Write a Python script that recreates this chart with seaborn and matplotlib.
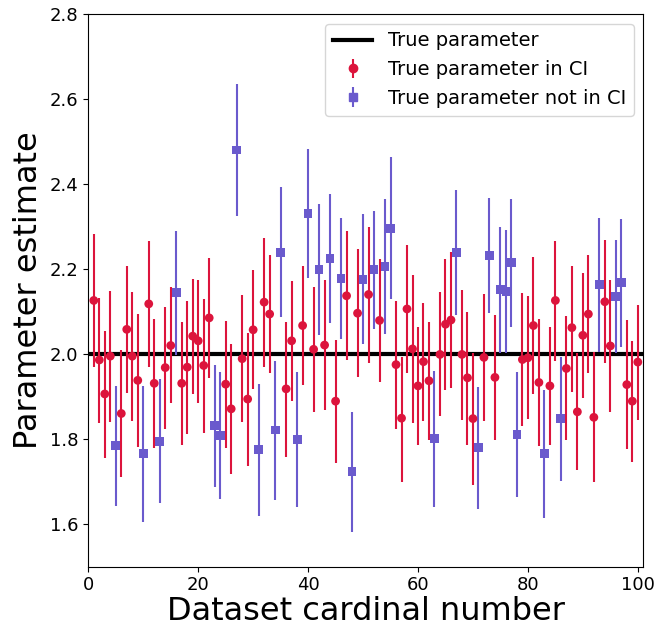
import numpy as np
import pandas as pd
import matplotlib
matplotlib.use("Agg")
import matplotlib.pyplot as plt
import seaborn as sns

true_param = 2.0

dataset = list(range(1, 101))

estimate = [
    2.126, 1.986, 1.906, 1.995, 1.784, 1.860, 2.058, 1.995, 1.938, 1.765,
    2.118, 1.931, 1.795, 1.968, 2.020, 2.145, 1.931, 1.969, 2.042, 2.031,
    1.973, 2.085, 1.831, 1.809, 1.929, 1.871, 2.480, 1.989, 1.894, 2.057,
    1.776, 2.122, 2.094, 1.821, 2.239, 1.918, 2.031, 1.799, 2.067, 2.331,
    2.011, 2.199, 2.021, 2.225, 1.889, 2.178, 2.137, 1.723, 2.096, 2.176,
    2.140, 2.198, 2.079, 2.206, 2.296, 1.975, 1.849, 2.106, 2.012, 1.925,
    1.982, 1.937, 1.802, 1.999, 2.070, 2.080, 2.239, 1.999, 1.944, 1.848,
    1.780, 1.992, 2.231, 1.945, 2.151, 2.147, 2.215, 1.811, 1.987, 1.991,
    2.067, 1.933, 1.765, 1.925, 2.126, 1.848, 1.966, 2.062, 1.864, 2.044,
    2.094, 1.851, 2.164, 2.123, 2.019, 2.135, 2.168, 1.928, 1.889, 1.981,
]

ci_low = [
    1.970, 1.838, 1.755, 1.841, 1.642, 1.711, 1.909, 1.842, 1.782, 1.605,
    1.970, 1.780, 1.649, 1.824, 1.884, 1.998, 1.786, 1.812, 1.905, 1.885,
    1.815, 1.943, 1.686, 1.660, 1.780, 1.717, 2.325, 1.839, 1.737, 1.918,
    1.620, 1.969, 1.955, 1.656, 2.086, 1.758, 1.889, 1.641, 1.927, 2.180,
    1.864, 2.045, 1.868, 2.074, 1.744, 2.036, 1.986, 1.582, 1.945, 2.024,
    1.980, 2.058, 1.935, 2.047, 2.129, 1.824, 1.699, 1.956, 1.837, 1.786,
    1.842, 1.798, 1.641, 1.853, 1.915, 1.921, 2.092, 1.845, 1.787, 1.691,
    1.635, 1.842, 2.096, 1.798, 2.002, 2.002, 2.064, 1.664, 1.831, 1.846,
    1.907, 1.784, 1.615, 1.787, 1.984, 1.702, 1.798, 1.911, 1.727, 1.896,
    1.955, 1.698, 2.005, 1.978, 1.864, 2.003, 2.017, 1.776, 1.747, 1.845,
]

ci_high = [
    2.282, 2.131, 2.055, 2.149, 1.925, 2.009, 2.207, 2.147, 2.095, 1.925,
    2.267, 2.082, 1.941, 2.111, 2.157, 2.289, 2.075, 2.125, 2.177, 2.174,
    2.129, 2.226, 1.973, 1.957, 2.077, 2.024, 2.635, 2.139, 2.050, 2.197,
    1.929, 2.274, 2.233, 1.984, 2.392, 2.076, 2.172, 1.957, 2.207, 2.482,
    2.158, 2.353, 2.173, 2.376, 2.033, 2.319, 2.289, 1.863, 2.247, 2.329,
    2.298, 2.336, 2.223, 2.364, 2.464, 2.125, 1.992, 2.256, 2.186, 2.064,
    2.121, 2.075, 1.961, 2.145, 2.224, 2.239, 2.386, 2.151, 2.100, 2.003,
    1.923, 2.141, 2.366, 2.091, 2.300, 2.292, 2.364, 1.957, 2.143, 2.136,
    2.228, 2.082, 1.915, 2.064, 2.266, 1.994, 2.089, 2.207, 2.003, 2.191,
    2.233, 2.004, 2.321, 2.268, 2.174, 2.268, 2.317, 2.079, 2.031, 2.116,
]

not_in_ci = [5, 10, 13, 16, 23, 24, 27, 31, 34, 35, 38, 40, 42, 44, 46, 48,
             50, 52, 54, 55, 63, 67, 71, 73, 75, 76, 77, 78, 83, 86, 93, 96, 97]

labels = ["True parameter", "True parameter in CI", "True parameter not in CI"]
x_ticks = [0, 20, 40, 60, 80, 100]
y_ticks = [1.6, 1.8, 2.0, 2.2, 2.4, 2.6, 2.8]

df = pd.DataFrame({
    "dataset": dataset,
    "estimate": estimate,
    "low": ci_low,
    "high": ci_high,
})
df["status"] = np.where(df["dataset"].isin(not_in_ci), "out", "in")

colors = {"in": "crimson", "out": "slateblue"}
markers = {"in": "o", "out": "s"}

fig = plt.figure(figsize=(6.72, 6.27), dpi=100)
ax = fig.add_axes([88.3 / 672, 1 - 566.5 / 627, (643.3 - 88.3) / 672, (566.5 - 14) / 627])

ax.axhline(true_param, color="black", lw=3, zorder=2, label=labels[0])

for st, lab in [("in", labels[1]), ("out", labels[2])]:
    sub = df[df["status"] == st]
    yerr = np.vstack([sub["estimate"] - sub["low"], sub["high"] - sub["estimate"]])
    ax.errorbar(sub["dataset"], sub["estimate"], yerr=yerr, fmt="none",
                ecolor=colors[st], elinewidth=1.5, capsize=0, zorder=3)
    # proxy for legend (errorbar style handle)
    ax.errorbar([np.nan], [np.nan], yerr=[np.nan], fmt=markers[st], color=colors[st],
                ms=6, elinewidth=1.5, label=lab)

sns.scatterplot(data=df, x="dataset", y="estimate", hue="status", style="status",
                palette=colors, markers=markers, s=40, linewidth=0,
                legend=False, ax=ax, zorder=4)

ax.set_xlim(0, 101)
ax.set_ylim(1.5, 2.8)
ax.set_xticks(x_ticks)
ax.set_yticks(y_ticks)
ax.tick_params(labelsize=13)
ax.set_xlabel("Dataset cardinal number", fontsize=23, labelpad=1)
ax.set_ylabel("Parameter estimate", fontsize=23, labelpad=4)

ax.legend(loc="upper right", fontsize=14)

fig.savefig("out.png", dpi=100)
